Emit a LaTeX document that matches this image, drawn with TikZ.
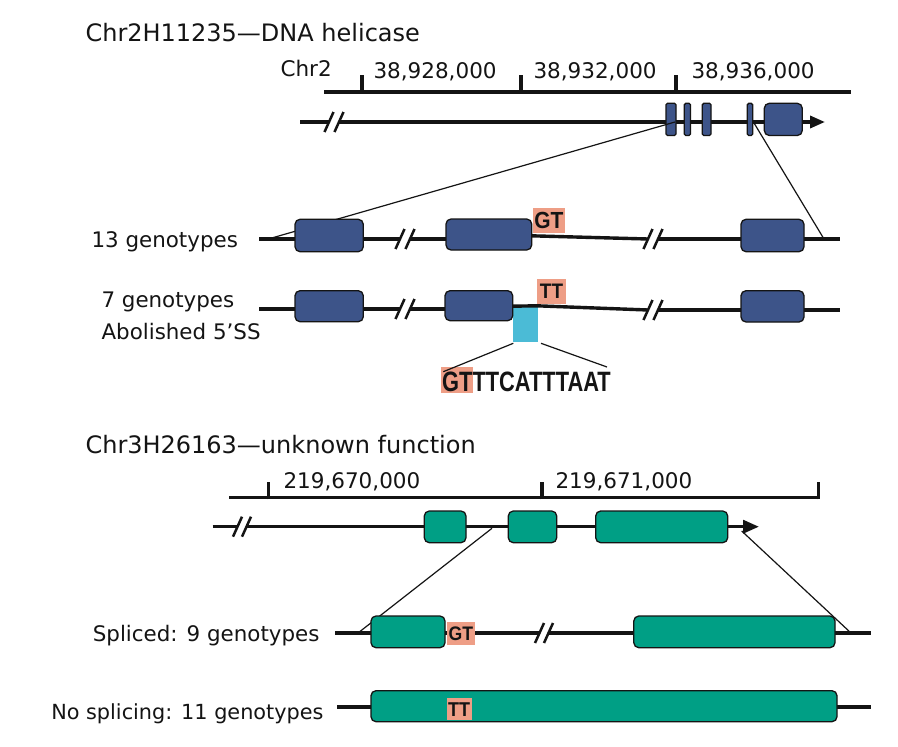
\documentclass[tikz,border=0pt]{standalone}
\usepackage{fontspec}
\setmainfont{DejaVu Sans}
\newfontfamily\gtf{Liberation Sans}[FakeStretch=0.9]
\newfontfamily\seqf{Liberation Sans}[FakeStretch=0.78]
\usetikzlibrary{arrows.meta}
\definecolor{exblue}{RGB}{61,84,137}
\definecolor{exteal}{RGB}{0,159,133}
\definecolor{salm}{RGB}{238,158,134}
\definecolor{cyn}{RGB}{75,187,214}
\definecolor{ink}{RGB}{20,20,20}
\tikzset{
  main/.style={line width=3.4pt, draw=ink},
  zoomln/.style={line width=1.2pt, draw=ink},
  slash/.style={line width=2.5pt, draw=ink},
  exon/.style={draw=ink, line width=1.3pt, rounded corners=5pt, inner sep=0pt, outer sep=0pt},
  bexon/.style={exon, fill=exblue},
  sexon/.style={exon, fill=exblue, rounded corners=1.5pt},
  texon/.style={exon, fill=exteal},
  hl/.style={fill=salm, inner sep=0pt, outer sep=0pt, text=ink},
  ttl/.style={anchor=base west, text=ink, font=\fontsize{24}{28}\selectfont},
  tck/.style={anchor=base west, text=ink, font=\fontsize{21.5}{26}\selectfont},
  lbl/.style={text=ink, font=\fontsize{21.4}{26}\selectfont},
  gtl/.style={font=\gtf\bfseries\fontsize{22}{22}\selectfont},
}
\newcommand\bx[6]{%
  \pgfmathsetmacro\bxw{#5-#3}\pgfmathsetmacro\bxh{#6-#4}%
  \node[#1, minimum width=\bxw pt, minimum height=\bxh pt] (#2) at ({(#3+#5)/2},{(#4+#6)/2}) {};}
\newcommand\hbx[7]{%
  \pgfmathsetmacro\bxw{#5-#3}\pgfmathsetmacro\bxh{#6-#4}%
  \node[#1, minimum width=\bxw pt, minimum height=\bxh pt] (#2) at ({(#3+#5)/2},{(#4+#6)/2}) {#7};}
\newcommand\brk[3]{%
  \draw[slash] ({#1-4.5},{#3+10}) -- ({#1+4.5},{#3-10});
  \draw[slash] ({#2-4.5},{#3+10}) -- ({#2+4.5},{#3-10});}
\begin{document}
\begin{tikzpicture}[x=1pt,y=-1pt]
\useasboundingbox[fill=white] (0,0) rectangle (898,747);

% ---------- Top gene ----------
\node[ttl] (t1) at (82,41) {Chr2H11235—DNA helicase};
\node[tck] (chr2) at (277,76) {Chr2};
\coordinate (s1a) at (324,92); \coordinate (s1b) at (851,92);
\draw[main] (s1a) -- (s1b);
\foreach \x in {362,521,676} \draw[main] (\x,93.6) -- (\x,75);
\node[tck] (tk1) at (370,78) {38,928,000};
\node[tck] (tk2) at (530,78) {38,932,000};
\node[tck] (tk3) at (688,78) {38,936,000};

\coordinate (g1a) at (300,122); \coordinate (g1b) at (329,122);
\coordinate (g1c) at (339,122); \coordinate (g1d) at (825,122);
\draw[main] (g1a) -- (g1b);
\draw[main, -{Triangle[length=15pt,width=12pt]}] (g1c) -- (g1d);
\brk{329}{339}{122}
\bx{sexon}{e1}{666}{103.3}{676}{135.5}
\bx{sexon}{e2}{684.3}{103.3}{690.5}{135.5}
\bx{sexon}{e3}{702.3}{103.3}{711}{135.5}
\bx{sexon}{e4}{747.3}{103.3}{752.7}{135.5}
\bx{bexon}{e5}{764.3}{103.3}{802.3}{135.5}

% zoom lines top
\coordinate (z1a) at (675,122); \coordinate (z1b) at (270,238.5);
\coordinate (z2a) at (754,123); \coordinate (z2b) at (824,239);
\draw[zoomln] (z1a) -- (z1b);
\draw[zoomln] (z2a) -- (z2b);

% ---------- Row 1: 13 genotypes ----------
\node[lbl, anchor=base west] (l13) at (88,247.5) {13 genotypes};
\draw[main] (259,239) -- (400,239);
\draw[main] (410,239) -- (446,239);
\draw[main] (531,235.8) -- (648,239);
\draw[main] (658,239) -- (840,239);
\brk{400}{410}{239}
\brk{648}{658}{239}
\bx{bexon}{r1a}{295}{219.3}{363.3}{251.7}
\bx{bexon}{r1b}{446}{219}{531.7}{250}
\bx{bexon}{r1c}{741}{219.3}{804}{251.7}
\hbx{hl,gtl,font=\gtf\bfseries\fontsize{23.3}{23}\selectfont}{gt1}{532.7}{208}{565}{233}{GT}

% ---------- Row 2: 7 genotypes ----------
\node[lbl, anchor=base west] (l7) at (98,307.5) {7 genotypes};
\node[lbl, anchor=base west] (lab) at (98,339.5) {Abolished 5’SS};
\bx{exon, fill=cyn, draw=none, rounded corners=0pt}{cy}{512.7}{306.7}{538.3}{341.7}
\draw[main] (259,309) -- (400,309);
\draw[main] (410,309) -- (445,309);
\draw[main] (512,306.2) -- (537,305.8) -- (648,310);
\draw[main] (658,310) -- (840,310);
\brk{400}{410}{309}
\brk{648}{658}{310}
\bx{bexon}{r2a}{295}{290.7}{363.3}{321.7}
\bx{bexon}{r2b}{445}{290.7}{512.7}{320.7}
\bx{bexon}{r2c}{741}{290.7}{804}{322}
\hbx{hl,gtl,font=\gtf\bfseries\fontsize{21}{21}\selectfont}{tt1}{537}{279}{566}{304}{TT}

% sequence
\bx{hl}{seqhl}{441}{367}{473}{392.7}
\node[anchor=base west, inner sep=0pt, text=ink, font=\seqf\bfseries\fontsize{28}{28}\selectfont] (seq) at (442,391.5) {GTTTCATTTAAT};
\coordinate (c1) at (513.3,343.3); \coordinate (c1b) at (443.3,371.7);
\coordinate (c2) at (541,343.3); \coordinate (c2b) at (607,367);
\draw[zoomln] (c1) -- (c1b);
\draw[zoomln] (c2) -- (c2b);

% ---------- Bottom gene ----------
\node[ttl] (t2) at (82,453) {Chr3H26163—unknown function};
\coordinate (s2a) at (229,497.7); \coordinate (s2b) at (819.9,497.7);
\draw[main] (s2a) -- (s2b);
\foreach \x in {268.3,542,818.3} \draw[main] (\x,499.3) -- (\x,482);
\node[tck] (tk4) at (280,488) {219,670,000};
\node[tck] (tk5) at (552,488) {219,671,000};

\coordinate (g2a) at (212.7,526.7); \coordinate (g2b) at (237.5,526.7);
\coordinate (g2c) at (246.5,526.7); \coordinate (g2d) at (759,526.7);
\draw[main] (g2a) -- (g2b);
\draw[main, -{Triangle[length=16pt,width=13pt]}] (g2c) -- (g2d);
\brk{237.5}{246.5}{526.7}
\bx{texon}{f1}{424.3}{511}{466}{542.7}
\bx{texon}{f2}{508.3}{511}{556.7}{542.7}
\bx{texon}{f3}{595.7}{511}{727.7}{542.7}

\coordinate (z3a) at (492,528.3); \coordinate (z3b) at (358,633);
\coordinate (z4a) at (741.7,531); \coordinate (z4b) at (851,633);
\draw[zoomln] (z3a) -- (z3b);
\draw[zoomln] (z4a) -- (z4b);

% ---------- Spliced row ----------
\node[lbl, anchor=base east] (lsp) at (323,641) {Spliced: 9 genotypes};
\draw[main] (335,633) -- (539.5,633);
\draw[main] (548.5,633) -- (871,633);
\brk{539.5}{548.5}{633}
\bx{texon}{sp1}{371}{616}{445}{647.7}
\bx{texon}{sp2}{633.8}{616}{835}{647.7}
\hbx{hl,gtl,font=\gtf\bfseries\fontsize{19.6}{20}\selectfont}{gt2}{446.7}{621.7}{475}{645}{GT}

% ---------- No splicing row ----------
\node[lbl, anchor=base east, font=\fontsize{20.8}{26}\selectfont] (lns) at (327,719) {No splicing: 11 genotypes};
\draw[main] (337,707) -- (871,707);
\bx{texon}{ns1}{371}{690.7}{837}{721.7}
\hbx{hl,gtl,font=\gtf\bfseries\fontsize{20}{20}\selectfont}{tt2}{446.7}{698.3}{471.7}{720}{TT}
\end{tikzpicture}
\end{document}
